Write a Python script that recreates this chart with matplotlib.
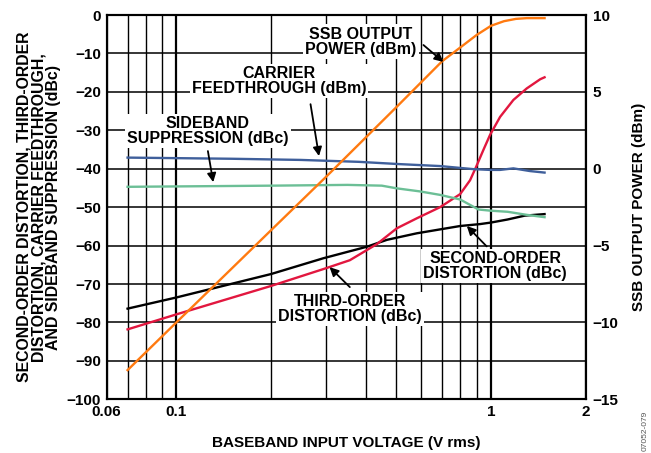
import numpy as np
import matplotlib
matplotlib.use("Agg")
import matplotlib.pyplot as plt
from matplotlib.ticker import FixedLocator, NullFormatter

plt.rcParams["font.family"] = ["Liberation Sans", "DejaVu Sans"]
plt.rcParams["font.weight"] = "bold"

# baseband input voltage (V rms) vs. measured values
ssb_v = [0.07, 0.1, 0.2, 0.3, 0.5, 0.7, 0.8, 0.9, 1.0, 1.1, 1.2, 1.3, 1.48]
ssb_dbm = [-13.1, -10.0, -4.0, -0.5, 4.0, 7.0, 7.9, 8.7, 9.3, 9.6, 9.75, 9.8, 9.8]

hd3_v = [0.07, 0.1, 0.2, 0.296, 0.356, 0.434, 0.502, 0.581, 0.689, 0.798, 0.858, 0.897,
         0.946, 0.993, 1.069, 1.178, 1.299, 1.434, 1.48]
hd3_dbc = [-81.8, -77.9, -70.5, -66.0, -63.8, -59.6, -55.5, -52.9, -50.0, -46.6, -43.0,
           -39.5, -35.1, -31.2, -26.5, -22.1, -19.1, -16.7, -16.2]

hd2_v = [0.07, 0.1, 0.2, 0.293, 0.403, 0.467, 0.581, 0.798, 0.923, 1.0, 1.13, 1.28, 1.48]
hd2_dbc = [-76.4, -73.5, -67.4, -63.3, -60.3, -58.5, -56.8, -54.9, -54.4, -54.0, -53.2,
           -52.2, -51.8]

cft_v = [0.07, 0.15, 0.248, 0.38, 0.514, 0.689, 0.879, 0.993, 1.069, 1.178, 1.33, 1.48]
cft_dbm = [-37.1, -37.4, -37.7, -38.2, -38.8, -39.3, -40.1, -40.3, -40.3, -39.9, -40.6,
           -41.0]

sbs_v = [0.07, 0.2, 0.35, 0.45, 0.502, 0.595, 0.689, 0.798, 0.858, 0.912, 0.993, 1.13,
         1.3, 1.48]
sbs_dbc = [-44.7, -44.4, -44.2, -44.4, -45.1, -45.9, -46.8, -48.0, -49.4, -50.6, -50.9,
           -51.2, -52.0, -52.6]

x_ticks = [0.06, 0.1, 1, 2]
x_ticklabels = ["0.06", "0.1", "1", "2"]
x_minor = [0.07, 0.08, 0.09, 0.2, 0.3, 0.4, 0.5, 0.6, 0.7, 0.8, 0.9]
left_ticks = list(range(-100, 1, 10))
right_ticks = [-15, -10, -5, 0, 5, 10]

fig = plt.figure(figsize=(6.51, 4.53), dpi=100)
ax = fig.add_axes([0.1636, 0.1185, 0.7361, 0.8483])
ax2 = ax.twinx()

ax.set_xscale("log")
ax.set_xlim(0.06, 2)
ax.set_ylim(-100, 0)
ax2.set_ylim(-15, 10)

ax.xaxis.set_major_locator(FixedLocator(x_ticks))
ax.set_xticklabels(x_ticklabels)
ax.xaxis.set_minor_locator(FixedLocator(x_minor))
ax.xaxis.set_minor_formatter(NullFormatter())
ax.set_yticks(left_ticks)
ax.set_yticklabels([str(t).replace("-", "\u2212") for t in left_ticks])
ax2.set_yticks(right_ticks)
ax2.set_yticklabels([str(t).replace("-", "\u2212") for t in right_ticks])

ax.grid(True, which="major", axis="x", color="black", lw=1.6)
ax.grid(True, which="minor", axis="x", color="black", lw=1.0)
ax.grid(True, which="major", axis="y", color="black", lw=1.1)
ax.tick_params(axis="both", which="both", length=0, labelsize=11, pad=4)
ax2.tick_params(axis="both", which="both", length=0, labelsize=11, pad=5)
for a in (ax, ax2):
    for s in a.spines.values():
        s.set_linewidth(1.5)

ax.plot(hd2_v, hd2_dbc, color="black", lw=1.7)
ax.plot(hd3_v, hd3_dbc, color="#e2173f", lw=1.7)
ax.plot(cft_v, cft_dbm, color="#3f5f9b", lw=1.7)
ax.plot(sbs_v, sbs_dbc, color="#6cbf96", lw=1.7)
ax2.plot(ssb_v, ssb_dbm, color="#ff7a10", lw=1.7)

ax.set_xlabel("BASEBAND INPUT VOLTAGE (V rms)", fontsize=11, fontweight="bold", labelpad=12)
ax.set_ylabel("SECOND-ORDER DISTORTION, THIRD-ORDER\nDISTORTION, CARRIER FEEDTHROUGH,\n"
              "AND SIDEBAND SUPPRESSION (dBc)", fontsize=11.4, fontweight="bold",
              linespacing=0.98, labelpad=4)
ax2.set_ylabel("SSB OUTPUT POWER (dBm)", fontsize=11, fontweight="bold", labelpad=10)

box = dict(facecolor="white", edgecolor="none", pad=1.5)
labels = [
    ("SSB OUTPUT\nPOWER (dBm)", (0.386, -6.9), (0.61, -7.8), (0.706, -12.2)),
    ("CARRIER\nFEEDTHROUGH (dBm)", (0.212, -17.2), (0.267, -23.2), (0.284, -36.7)),
    ("SIDEBAND\nSUPPRESSION (dBc)", (0.126, -30.2), (0.126, -35.4), (0.131, -43.5)),
    ("SECOND-ORDER\nDISTORTION (dBc)", (1.03, -65.4), (0.969, -60.2), (0.838, -54.9)),
    ("THIRD-ORDER\nDISTORTION (dBc)", (0.356, -76.6), (0.356, -70.8), (0.307, -65.6)),
]
for txt, pos, tail, head in labels:
    ax2.text(pos[0], pos[1], txt, transform=ax.transData, ha="center", va="center",
             fontsize=11.5, fontweight="bold", linespacing=1.0, bbox=box, zorder=5)
    ax2.annotate("", xy=head, xycoords=ax.transData, xytext=tail, textcoords=ax.transData,
                 arrowprops=dict(arrowstyle="-|>", color="black", lw=1.3,
                                 mutation_scale=13, shrinkA=0, shrinkB=0), zorder=6)

fig.text(0.997, 0.005, "07052-079", rotation=90, fontsize=6, color="#555555",
         fontweight="normal", ha="right", va="bottom")

fig.savefig("out.png", dpi=100)
